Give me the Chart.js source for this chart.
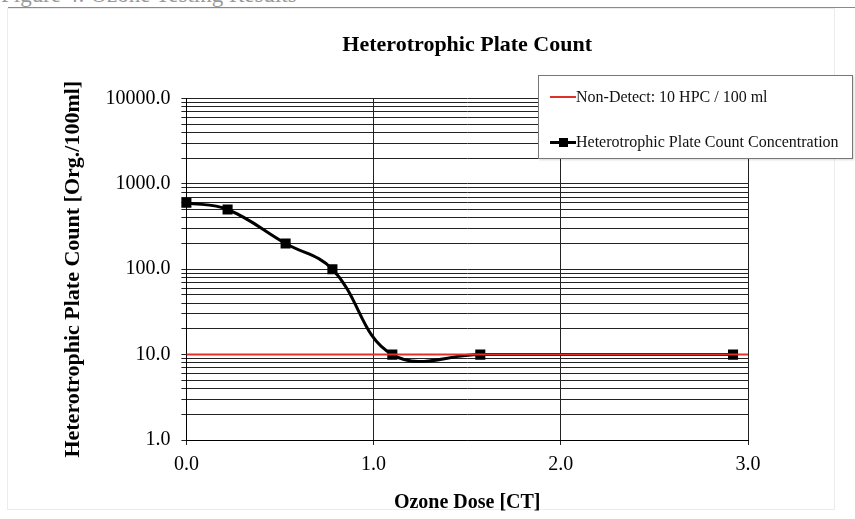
<!DOCTYPE html>
<html>
<head>
<meta charset="utf-8">
<script src="https://cdn.jsdelivr.net/npm/chart.js@4"></script>
<style>
  body { margin: 0; background: #fff; }
  #wrap { position: relative; width: 855px; height: 519px; overflow: hidden; font-family: "Liberation Serif", serif; }
  #caption { position: absolute; left: 1px; top: -18px; font-size: 23px; color: #9a9a9a; white-space: nowrap; }
  #rule { position: absolute; left: 8px; top: 7px; width: 847px; height: 1px; background: #8a8a8a; }
  #frame { position: absolute; left: 7px; top: 8px; width: 826px; height: 500px; border: 1px solid #ececec; }
  #legend { position: absolute; left: 538px; top: 75px; width: 313px; height: 82px; background: #fff; border: 1px solid #777; box-shadow: 1px 1px 2px rgba(0,0,0,0.15); }
  .item { position: absolute; left: 11px; font-size: 16px; color: #111; white-space: nowrap; }
  .swatch { display: inline-block; width: 26px; vertical-align: middle; position: relative; }
  .lbl { vertical-align: middle; }
</style>
</head>
<body>
<div id="wrap">
  <div id="caption">Figure 4: Ozone Testing Results</div>
  <div id="rule"></div>
  <div id="frame"></div>
  <canvas id="hpcChart" width="855" height="519" style="position:absolute;left:0;top:0;"></canvas>
  <div id="legend">
    <div class="item" style="top:11px;">
      <span class="swatch" style="height:2px;background:#e0302a;"></span><span class="lbl">Non-Detect: 10 HPC / 100 ml</span>
    </div>
    <div class="item" style="top:56px;">
      <span class="swatch" style="height:3px;background:#000;"><span style="position:absolute;left:9px;top:-3px;width:9px;height:9px;background:#000;"></span></span><span class="lbl">Heterotrophic Plate Count Concentration</span>
    </div>
  </div>
</div>
<script>
// data
const ozoneDose = [0, 0.22, 0.53, 0.78, 1.10, 1.57, 2.92];
const hpcCount = [600, 500, 200, 100, 10, 10, 10];
const nonDetectDose = [0, 3];
const nonDetectCount = [10, 10];
const xTicks = [0, 1, 2, 3];
const yMajorTicks = [1, 10, 100, 1000, 10000];
const yMinorSteps = [1, 2, 3, 4, 5, 6, 7, 8, 9];

const serif = "'Liberation Serif', 'Times New Roman', serif";

function toPoints(xs, ys) {
    return xs.map((x, i) => ({ x: x, y: ys[i] }));
}

// gridlines at 1..9 of every decade, like the Excel minor grid
function logGridTicks() {
    const ticks = [];
    yMajorTicks.forEach((decade, i) => {
        if (i === yMajorTicks.length - 1) {
            ticks.push({ value: decade, major: true });
            return;
        }
        yMinorSteps.forEach((m) => ticks.push({ value: decade * m, major: m === 1 }));
    });
    return ticks;
}

const ctx = document.getElementById("hpcChart").getContext("2d");

new Chart(ctx, {
    type: 'line',
    data: {
        datasets: [{
            label: 'Non-Detect: 10 HPC / 100 ml',
            data: toPoints(nonDetectDose, nonDetectCount),
            borderColor: '#e0302a',
            borderWidth: 2,
            pointRadius: 0,
            fill: false
        }, {
            label: 'Heterotrophic Plate Count Concentration',
            data: toPoints(ozoneDose, hpcCount),
            borderColor: '#000',
            backgroundColor: '#000',
            borderWidth: 3,
            tension: 0.4,
            pointStyle: 'rect',
            pointRadius: 5,
            pointHoverRadius: 5,
            clip: false,
            fill: false
        }]
    },
    options: {
        responsive: false,
        animation: false,
        events: [],
        layout: {
            padding: { left: 36, right: 107, top: 20, bottom: 4 }
        },
        plugins: {
            legend: { display: false },
            tooltip: { enabled: false },
            title: {
                display: true,
                fullSize: false,
                text: 'Heterotrophic Plate Count',
                color: '#000',
                font: { family: serif, size: 22, weight: 'bold' },
                padding: { top: 12, bottom: 40 }
            }
        },
        scales: {
            x: {
                type: 'linear',
                min: 0,
                max: 3,
                afterBuildTicks: (scale) => { scale.ticks = xTicks.map(v => ({ value: v })); },
                ticks: {
                    color: '#000',
                    font: { family: serif, size: 20 },
                    padding: 8,
                    callback: (v) => v.toFixed(1)
                },
                grid: { color: '#222', lineWidth: 1, tickLength: 5 },
                border: { color: '#000', width: 1 },
                title: {
                    display: true,
                    text: 'Ozone Dose [CT]',
                    color: '#000',
                    font: { family: serif, size: 20, weight: 'bold' },
                    padding: { top: 6, bottom: 0 }
                }
            },
            y: {
                type: 'logarithmic',
                min: 1,
                max: 10000,
                afterBuildTicks: (scale) => { scale.ticks = logGridTicks(); },
                ticks: {
                    color: '#000',
                    font: { family: serif, size: 20 },
                    padding: 11,
                    autoSkip: false,
                    callback: (v) => yMajorTicks.includes(v) ? v.toFixed(1) : ''
                },
                grid: { color: '#222', lineWidth: 1, tickLength: 5 },
                border: { color: '#000', width: 1 },
                title: {
                    display: true,
                    text: 'Heterotrophic Plate Count [Org./100ml]',
                    color: '#000',
                    font: { family: serif, size: 22, weight: 'bold' },
                    padding: { top: 24, bottom: 8 }
                }
            }
        }
    }
});
</script>
</body>
</html>
